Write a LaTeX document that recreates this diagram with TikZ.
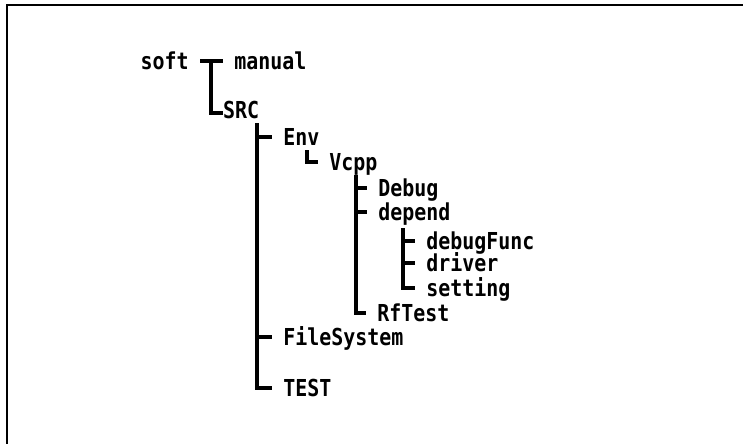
\documentclass[tikz,border=0pt]{standalone}
\usepackage{fontspec}
\newfontfamily\treefont[FakeStretch=0.855]{DejaVu Sans Mono Bold}
\tikzset{
  lbl/.style={anchor=west, inner xsep=0pt, inner ysep=0pt, outer xsep=8.5pt, outer ysep=0pt,
    text height=12.7pt, text depth=0pt, font=\treefont\fontsize{17.5pt}{19pt}\selectfont},
  conn/.style={line width=2.3pt},
  frame/.style={line width=1.6pt}
}
\begin{document}
\begin{tikzpicture}[x=0.75pt,y=-0.75pt]
\useasboundingbox (0,0) rectangle (743,444);
\draw[frame] (743,5) -- (7,5) -- (7,444);
% nodes
\node[lbl, anchor=east] (soft) at (200,61) {soft};
\node[lbl] (manual) at (223,61) {manual};
\node[lbl, outer xsep=0pt] (SRC) at (223,110) {SRC};
\node[lbl] (Env) at (272,137) {Env};
\node[lbl] (Vcpp) at (318,162) {Vcpp};
\node[lbl] (Debug) at (367,188) {Debug};
\node[lbl] (depend) at (367,212) {depend};
\node[lbl] (debugFunc) at (415,241) {debugFunc};
\node[lbl] (driver) at (415,263) {driver};
\node[lbl] (setting) at (415,288) {setting};
\node[lbl] (RfTest) at (366,313) {RfTest};
\node[lbl] (FileSystem) at (272,337) {FileSystem};
\node[lbl] (TEST) at (272,388) {TEST};
% trunk coordinates
\coordinate (t0) at (211,61);
\coordinate (t1) at (257,123);
\coordinate (t2) at (307,150);
\coordinate (t3) at (356,175);
\coordinate (t4) at (403,228);
% connectors
\draw[conn] (soft.east) -- (manual.west);
\draw[conn] (t0) |- ([yshift=-2.25pt]SRC.west);
\draw[conn] (t1) |- (TEST.west);
\draw[conn] (t1 |- Env.west) -- (Env.west);
\draw[conn] (t1 |- FileSystem.west) -- (FileSystem.west);
\draw[conn] (t2) |- (Vcpp.west);
\draw[conn] (t3) |- (RfTest.west);
\draw[conn] (t3 |- Debug.west) -- (Debug.west);
\draw[conn] (t3 |- depend.west) -- (depend.west);
\draw[conn] (t4) |- (setting.west);
\draw[conn] (t4 |- debugFunc.west) -- (debugFunc.west);
\draw[conn] (t4 |- driver.west) -- (driver.west);
\end{tikzpicture}
\end{document}
